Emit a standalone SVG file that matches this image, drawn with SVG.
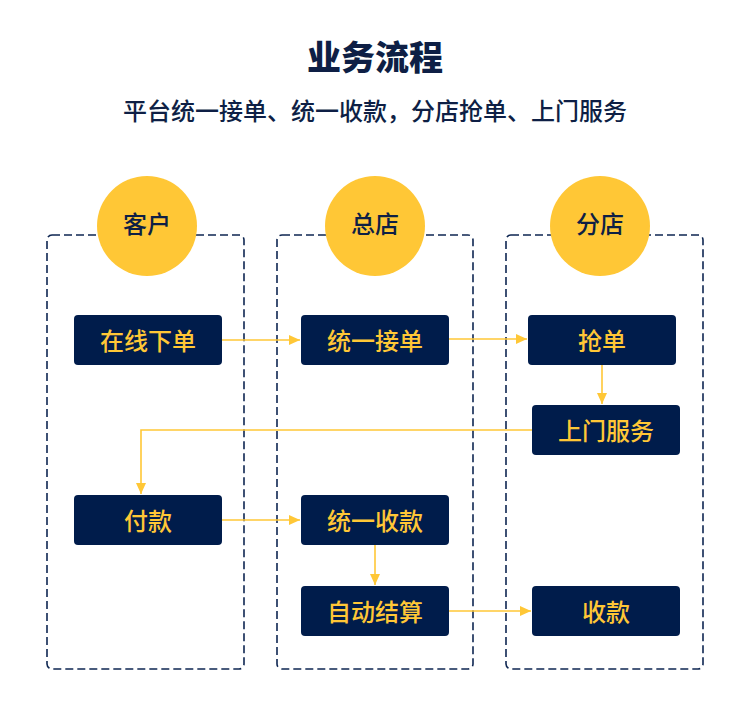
<svg xmlns="http://www.w3.org/2000/svg" width="750" height="708" viewBox="0 0 750 708">
<defs>
<style>
.lane{fill:none;stroke:#0E2652;stroke-width:1.6;stroke-dasharray:8 4}
.circ{fill:#FFC736}
.ctext{font-family:"Noto Sans CJK SC","Noto Sans",sans-serif;font-size:24px;font-weight:500;fill:#0E1F45;text-anchor:middle}
.box{fill:#001C4B}
.ntext{font-family:"Noto Sans CJK SC","Noto Sans",sans-serif;font-size:24px;font-weight:500;fill:#FFC736;text-anchor:middle}
.conn{fill:none;stroke:#FFC736;stroke-width:1.6}
.title{font-family:"Noto Sans CJK SC","Noto Sans",sans-serif;font-size:34px;font-weight:900;fill:#0E1F45;text-anchor:middle}
.sub{font-family:"Noto Sans CJK SC","Noto Sans",sans-serif;font-size:24px;font-weight:500;fill:#0E1F45;text-anchor:middle}
</style>
<marker id="arr" markerWidth="12" markerHeight="12" refX="11" refY="6" orient="auto" markerUnits="userSpaceOnUse">
<path d="M0,1 L11,6 L0,11 Z" fill="#FFC736"/>
</marker>
</defs>
<rect width="750" height="708" fill="#FFFFFF"/>
<text class="title" x="375" y="70">业务流程</text>
<text class="sub" x="375" y="120">平台统一接单、统一收款，分店抢单、上门服务</text>

<g id="lane-customer">
<rect class="lane" x="47" y="235" width="197" height="434" rx="5"/>
<circle class="circ" cx="147" cy="226" r="50"/>
<text class="ctext" x="147" y="233">客户</text>
</g>
<g id="lane-hq">
<rect class="lane" x="277" y="235" width="196" height="434" rx="5"/>
<circle class="circ" cx="375" cy="226" r="50"/>
<text class="ctext" x="375" y="233">总店</text>
</g>
<g id="lane-branch">
<rect class="lane" x="506" y="235" width="197" height="434" rx="5"/>
<circle class="circ" cx="600" cy="226" r="50"/>
<text class="ctext" x="600" y="233">分店</text>
</g>

<g id="connectors">
<path class="conn" d="M222,340 H300" marker-end="url(#arr)"/>
<path class="conn" d="M449,339 H527" marker-end="url(#arr)"/>
<path class="conn" d="M602,365 V404" marker-end="url(#arr)"/>
<path class="conn" d="M532,430 H141 V494" marker-end="url(#arr)"/>
<path class="conn" d="M222,520 H300" marker-end="url(#arr)"/>
<path class="conn" d="M375,545 V585" marker-end="url(#arr)"/>
<path class="conn" d="M449,611 H531" marker-end="url(#arr)"/>
</g>

<g id="node-order-online">
<rect class="box" x="74" y="315" width="148" height="50" rx="4"/>
<text class="ntext" x="148" y="350">在线下单</text>
</g>
<g id="node-unified-accept">
<rect class="box" x="301" y="315" width="148" height="50" rx="4"/>
<text class="ntext" x="375" y="350">统一接单</text>
</g>
<g id="node-grab">
<rect class="box" x="528" y="315" width="148" height="50" rx="4"/>
<text class="ntext" x="602" y="350">抢单</text>
</g>
<g id="node-onsite">
<rect class="box" x="532" y="405" width="148" height="50" rx="4"/>
<text class="ntext" x="606" y="440">上门服务</text>
</g>
<g id="node-pay">
<rect class="box" x="74" y="495" width="148" height="50" rx="4"/>
<text class="ntext" x="148" y="530">付款</text>
</g>
<g id="node-unified-collect">
<rect class="box" x="301" y="495" width="148" height="50" rx="4"/>
<text class="ntext" x="375" y="530">统一收款</text>
</g>
<g id="node-settle">
<rect class="box" x="301" y="586" width="148" height="50" rx="4"/>
<text class="ntext" x="375" y="621">自动结算</text>
</g>
<g id="node-receive">
<rect class="box" x="532" y="586" width="148" height="50" rx="4"/>
<text class="ntext" x="606" y="621">收款</text>
</g>
</svg>
